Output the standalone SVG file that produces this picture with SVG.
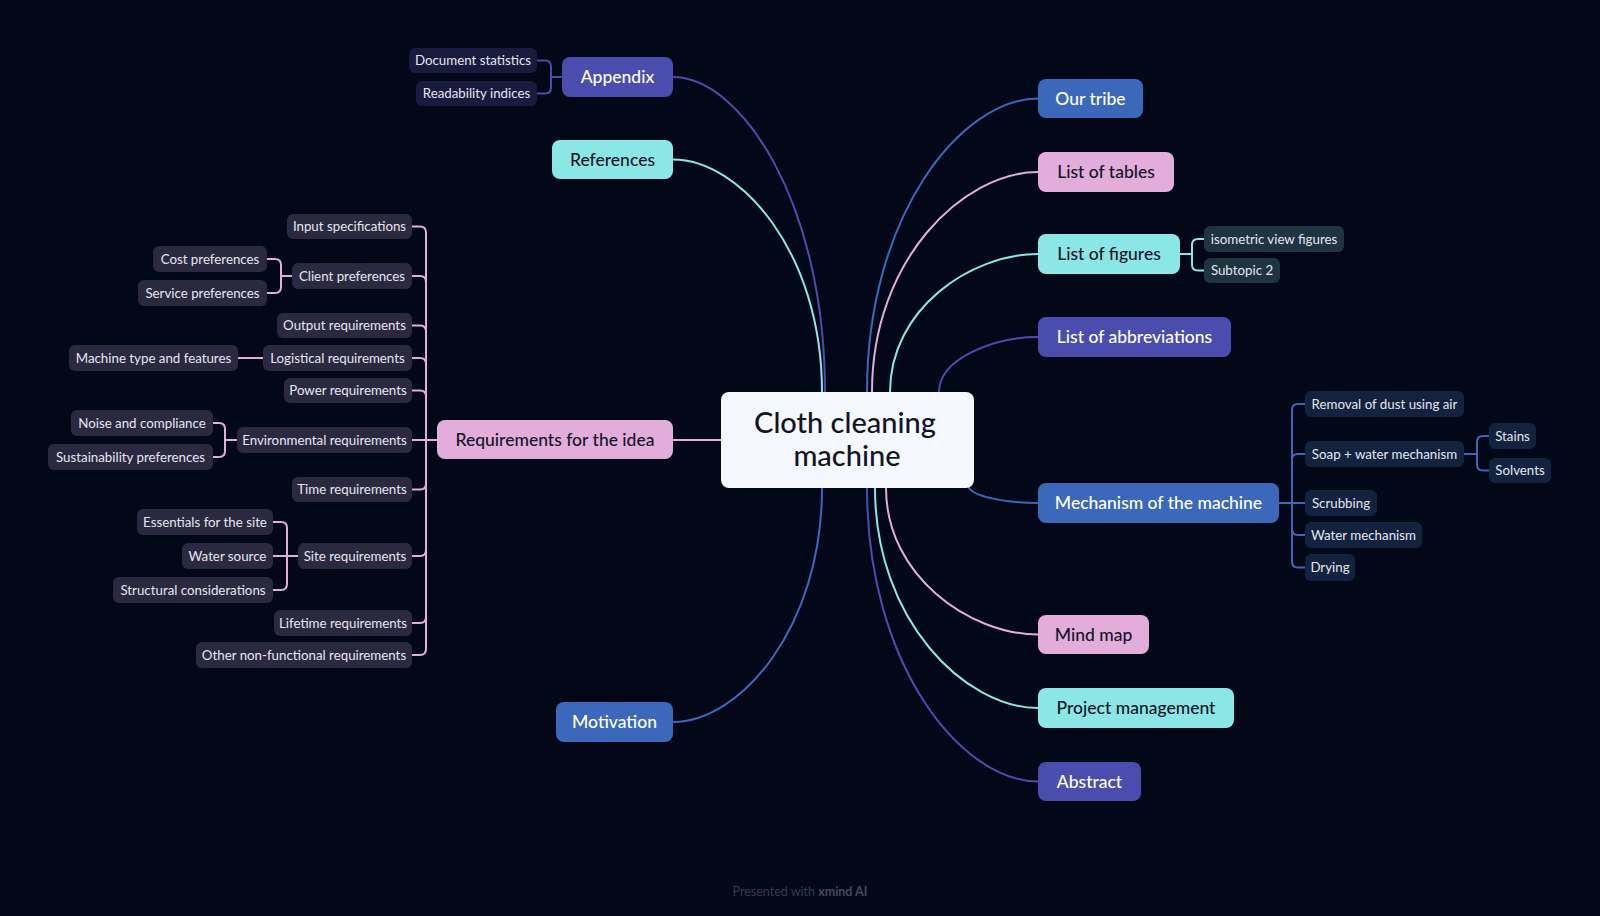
<svg xmlns="http://www.w3.org/2000/svg" width="1600" height="916" viewBox="0 0 1600 916">
<style>
.t{font-family:Lato,"Liberation Sans",sans-serif;text-anchor:middle}
.m{font-size:17.5px;font-weight:500}
.s{font-size:13.3px;fill:#e6e6f0}
.w{fill:#ffffff}
.d{fill:#121426}
.c{fill:none;stroke-width:2;stroke-linecap:round}
.pu{fill:#4b4dae}.bl{fill:#3b68ba}.pk{fill:#e2acdb}.cy{fill:#8be7e6}
.spu{stroke:#4b4dae}.sbl{stroke:#3b68ba}.spk{stroke:#e2acdb}.scy{stroke:#8be7e6}
.cpu{fill:#181b3e}.cpk{fill:#2b2940}.ccy{fill:#1e3440}.cbl{fill:#13223f}
</style>
<rect width="1600" height="916" fill="#020818"/>
<g id="connectors">
<path class="c spu" d="M825 392 C825 203 741 77 673 77"/>
<path class="c scy" d="M822 392 C822 252 740 159.5 673 159.5"/>
<path class="c spk" d="M721 440 H673"/>
<path class="c sbl" d="M822 488 C822 628 740 722 673 722"/>
<path class="c sbl" d="M867 392 C867 216 961 98.5 1038 98.5"/>
<path class="c spk" d="M872 392 C872 260 963 172 1038 172"/>
<path class="c scy" d="M890 392 C890 309 971 254 1038 254"/>
<path class="c spu" d="M939 392 C939 359 993 337 1038 337"/>
<path class="c sbl" d="M969 488 C975 497 1007 503 1038 503"/>
<path class="c spk" d="M886 488 C886 576 970 634.5 1038 634.5"/>
<path class="c scy" d="M875 488 C875 620 965 708 1038 708"/>
<path class="c spu" d="M867 488 C867 664 961 781.5 1038 781.5"/>
<path class="c spu" d="M562 77 H551 V66.5 Q551 60.5 545 60.5 H537 M551 77 V87.5 Q551 93.5 545 93.5 H537"/>
<path class="c spk" d="M437 440 H412"/>
<path class="c spk" d="M426 440 V232.5 Q426 226.5 420 226.5 H412"/>
<path class="c spk" d="M426 440 V282 Q426 276 420 276 H412"/>
<path class="c spk" d="M426 440 V331.5 Q426 325.5 420 325.5 H412"/>
<path class="c spk" d="M426 440 V364 Q426 358 420 358 H412"/>
<path class="c spk" d="M426 440 V396.5 Q426 390.5 420 390.5 H412"/>
<path class="c spk" d="M426 440 V483.5 Q426 489.5 420 489.5 H412"/>
<path class="c spk" d="M426 440 V550 Q426 556 420 556 H412"/>
<path class="c spk" d="M426 440 V617 Q426 623 420 623 H412"/>
<path class="c spk" d="M426 440 V649 Q426 655 420 655 H412"/>
<path class="c spk" d="M292 276 H281 V265 Q281 259 275 259 H267 M281 276 V287 Q281 293 275 293 H267"/>
<path class="c spk" d="M263 358 H238"/>
<path class="c spk" d="M237 440 H225 V429 Q225 423 219 423 H213 M225 440 V451 Q225 457 219 457 H213"/>
<path class="c spk" d="M298 556 H273 M287 556 V528 Q287 522 281 522 H273 M287 556 V584 Q287 590 281 590 H273"/>
<path class="c scy" d="M1180 254 H1192 V245 Q1192 239 1198 239 H1204 M1192 254 V264.5 Q1192 270.5 1198 270.5 H1204"/>
<path class="c sbl" d="M1279 503 H1305"/>
<path class="c sbl" d="M1292 503 V410 Q1292 404 1298 404 H1305"/>
<path class="c sbl" d="M1292 503 V460 Q1292 454 1298 454 H1305"/>
<path class="c sbl" d="M1292 503 V529 Q1292 535 1298 535 H1305"/>
<path class="c sbl" d="M1292 503 V561.5 Q1292 567.5 1298 567.5 H1305"/>
<path class="c sbl" d="M1464 454 H1477 V442 Q1477 436 1483 436 H1489 M1477 454 V464.5 Q1477 470.5 1483 470.5 H1489"/>
</g>
<g id="center"><rect x="721" y="392" width="253" height="96" rx="8" fill="#f5f8fe"/><text class="t" x="845" y="433" font-size="29" font-weight="500" fill="#121426">Cloth cleaning</text><text class="t" x="847" y="466" font-size="29" font-weight="500" fill="#121426">machine</text></g>
<g id="appendix"><rect class="pu" x="562" y="57" width="111" height="40" rx="8"/><text class="t m w" x="617.5" y="83">Appendix</text></g>
<g id="doc-stats"><rect class="cpu" x="409" y="48" width="128" height="25" rx="6"/><text class="t s" x="473" y="65">Document statistics</text></g>
<g id="readability"><rect class="cpu" x="416" y="81" width="121" height="25" rx="6"/><text class="t s" x="476.5" y="98">Readability indices</text></g>
<g id="references"><rect class="cy" x="552" y="140" width="121" height="39" rx="8"/><text class="t m d" x="612.5" y="165.5">References</text></g>
<g id="requirements"><rect class="pk" x="437" y="420" width="236" height="39" rx="8"/><text class="t m d" x="555" y="445.5">Requirements for the idea</text></g>
<g id="motivation"><rect class="bl" x="556" y="702" width="117" height="40" rx="8"/><text class="t m w" x="614.5" y="728">Motivation</text></g>
<g id="input-spec"><rect class="cpk" x="287" y="214" width="125" height="25" rx="6"/><text class="t s" x="349.5" y="231">Input specifications</text></g>
<g id="client-pref"><rect class="cpk" x="292" y="263" width="120" height="26" rx="6"/><text class="t s" x="352" y="280.5">Client preferences</text></g>
<g id="cost-pref"><rect class="cpk" x="153" y="246" width="114" height="26" rx="6"/><text class="t s" x="210" y="263.5">Cost preferences</text></g>
<g id="service-pref"><rect class="cpk" x="138" y="280" width="129" height="26" rx="6"/><text class="t s" x="202.5" y="297.5">Service preferences</text></g>
<g id="output-req"><rect class="cpk" x="277" y="313" width="135" height="25" rx="6"/><text class="t s" x="344.5" y="330">Output requirements</text></g>
<g id="logistical-req"><rect class="cpk" x="263" y="345" width="149" height="26" rx="6"/><text class="t s" x="337.5" y="362.5">Logistical requirements</text></g>
<g id="machine-type"><rect class="cpk" x="69" y="345" width="169" height="26" rx="6"/><text class="t s" x="153.5" y="362.5">Machine type and features</text></g>
<g id="power-req"><rect class="cpk" x="284" y="378" width="128" height="25" rx="6"/><text class="t s" x="348" y="395">Power requirements</text></g>
<g id="env-req"><rect class="cpk" x="237" y="427" width="175" height="26" rx="6"/><text class="t s" x="324.5" y="444.5">Environmental requirements</text></g>
<g id="noise"><rect class="cpk" x="71" y="410" width="142" height="26" rx="6"/><text class="t s" x="142" y="427.5">Noise and compliance</text></g>
<g id="sustainability"><rect class="cpk" x="48" y="444" width="165" height="26" rx="6"/><text class="t s" x="130.5" y="461.5">Sustainability preferences</text></g>
<g id="time-req"><rect class="cpk" x="292" y="477" width="120" height="25" rx="6"/><text class="t s" x="352" y="494">Time requirements</text></g>
<g id="site-req"><rect class="cpk" x="298" y="543" width="114" height="26" rx="6"/><text class="t s" x="355" y="560.5">Site requirements</text></g>
<g id="essentials"><rect class="cpk" x="137" y="509" width="136" height="26" rx="6"/><text class="t s" x="205" y="526.5">Essentials for the site</text></g>
<g id="water-source"><rect class="cpk" x="182" y="543" width="91" height="26" rx="6"/><text class="t s" x="227.5" y="560.5">Water source</text></g>
<g id="structural"><rect class="cpk" x="113" y="577" width="160" height="26" rx="6"/><text class="t s" x="193" y="594.5">Structural considerations</text></g>
<g id="lifetime-req"><rect class="cpk" x="274" y="610" width="138" height="26" rx="6"/><text class="t s" x="343" y="627.5">Lifetime requirements</text></g>
<g id="other-req"><rect class="cpk" x="196" y="642" width="216" height="26" rx="6"/><text class="t s" x="304" y="659.5">Other non-functional requirements</text></g>
<g id="our-tribe"><rect class="bl" x="1038" y="79" width="105" height="39" rx="8"/><text class="t m w" x="1090.5" y="104.5">Our tribe</text></g>
<g id="list-tables"><rect class="pk" x="1038" y="152" width="136" height="40" rx="8"/><text class="t m d" x="1106" y="178">List of tables</text></g>
<g id="list-figures"><rect class="cy" x="1038" y="234" width="142" height="40" rx="8"/><text class="t m d" x="1109" y="260">List of figures</text></g>
<g id="isometric"><rect class="ccy" x="1204" y="226" width="140" height="26" rx="6"/><text class="t s" x="1274" y="243.5">isometric view figures</text></g>
<g id="subtopic2"><rect class="ccy" x="1204" y="258" width="76" height="25" rx="6"/><text class="t s" x="1242" y="275">Subtopic 2</text></g>
<g id="list-abbrev"><rect class="pu" x="1038" y="317" width="193" height="40" rx="8"/><text class="t m w" x="1134.5" y="343">List of abbreviations</text></g>
<g id="mechanism"><rect class="bl" x="1038" y="483" width="241" height="40" rx="8"/><text class="t m w" x="1158.5" y="509">Mechanism of the machine</text></g>
<g id="removal-dust"><rect class="cbl" x="1305" y="391" width="159" height="26" rx="6"/><text class="t s" x="1384.5" y="408.5">Removal of dust using air</text></g>
<g id="soap-water"><rect class="cbl" x="1305" y="441" width="159" height="26" rx="6"/><text class="t s" x="1384.5" y="458.5">Soap + water mechanism</text></g>
<g id="stains"><rect class="cbl" x="1489" y="423" width="47" height="26" rx="6"/><text class="t s" x="1512.5" y="440.5">Stains</text></g>
<g id="solvents"><rect class="cbl" x="1489" y="458" width="62" height="25" rx="6"/><text class="t s" x="1520" y="475">Solvents</text></g>
<g id="scrubbing"><rect class="cbl" x="1305" y="490" width="72" height="26" rx="6"/><text class="t s" x="1341" y="507.5">Scrubbing</text></g>
<g id="water-mech"><rect class="cbl" x="1305" y="522" width="117" height="26" rx="6"/><text class="t s" x="1363.5" y="539.5">Water mechanism</text></g>
<g id="drying"><rect class="cbl" x="1305" y="554" width="50" height="27" rx="6"/><text class="t s" x="1330" y="572">Drying</text></g>
<g id="mind-map"><rect class="pk" x="1038" y="615" width="111" height="39" rx="8"/><text class="t m d" x="1093.5" y="640.5">Mind map</text></g>
<g id="project-mgmt"><rect class="cy" x="1038" y="688" width="196" height="40" rx="8"/><text class="t m d" x="1136" y="714">Project management</text></g>
<g id="abstract"><rect class="pu" x="1038" y="762" width="103" height="39" rx="8"/><text class="t m w" x="1089.5" y="787.5">Abstract</text></g>
<text class="t" x="800" y="896" font-size="12.5" fill="#353b4c">Presented with <tspan font-weight="700" fill="#434a5c">xmind AI</tspan></text>
</svg>
